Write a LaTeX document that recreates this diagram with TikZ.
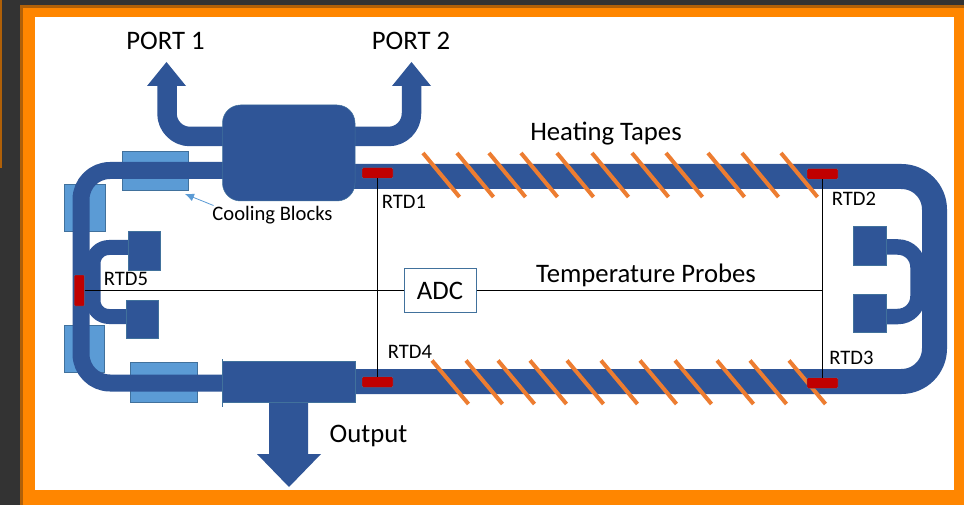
\documentclass[tikz,border=0pt]{standalone}
\usepackage{fontspec}
\setmainfont{Carlito}
\usetikzlibrary{arrows.meta}
\definecolor{tubeblue}{HTML}{2F5597}
\definecolor{edgeblue}{HTML}{41719C}
\definecolor{coolblue}{HTML}{5B9BD5}
\definecolor{rtdred}{HTML}{C00000}
\definecolor{tapeorange}{HTML}{ED7D31}
\definecolor{frameorange}{HTML}{FF8600}
\definecolor{framedark}{HTML}{B06008}
\definecolor{bgdark}{HTML}{333333}
\tikzset{
  tube/.style={draw=tubeblue,line width=#1,line join=round},
  coolblock/.style={fill=coolblue,draw=edgeblue,line width=.8pt},
  bodyblock/.style={fill=tubeblue,draw=edgeblue,line width=.5pt},
  rtdbox/.style={fill=rtdred,draw=edgeblue,line width=.4pt,rounded corners=1pt,inner sep=0pt,outer sep=0pt},
  tape/.style={draw=tapeorange,line width=4pt},
  probe/.style={draw=black,line width=1.5pt},
  biglabel/.style={inner sep=0pt,font=\fontsize{26.7}{27}\selectfont},
  smalllabel/.style={inner sep=0pt,font=\fontsize{20.6}{21}\selectfont},
}
\begin{document}
\begin{tikzpicture}[x=1pt,y=-1pt]
\useasboundingbox (0,0) rectangle (964,505);
% surroundings
\fill[bgdark] (0,0) rectangle (964,505);
\fill[framedark] (0,0) rectangle (2,168);
\fill[framedark] (20,5) rectangle (964,505);
\fill[frameorange] (23,8) rectangle (964,505);
\fill[white] (35,17) rectangle (954,490);
% cooling blocks
\draw[coolblock] (122,151) rectangle (188,190);
\draw[coolblock] (64,184) rectangle (105,231);
\draw[coolblock] (64,325) rectangle (104,372);
\draw[coolblock] (130,362) rectangle (197,402);
% side loops
\draw[tube=15pt,rounded corners=16pt] (130,247.5) -- (93,247.5) -- (93,316.5) -- (130,316.5);
\draw[tube=15.5pt,rounded corners=20pt] (880,247) -- (918,247) -- (918,316.5) -- (880,316.5);
% main tubes
\draw[tube=17pt,rounded corners=29pt] (230,170.5) -- (81,170.5) -- (81,383) -- (230,383);
\draw[tube=25pt,rounded corners=33pt] (345,176.5) -- (934.5,176.5) -- (934.5,381.5) -- (345,381.5);
% port arrows
\draw[tube=19.5pt,rounded corners=23pt] (230,136.5) -- (167,136.5) -- (167,84);
\fill[tubeblue] (147,86) -- (166.5,62) -- (186,86) -- cycle;
\draw[tube=19.5pt,rounded corners=23pt] (345,136.5) -- (411.5,136.5) -- (411.5,84);
\fill[tubeblue] (392,86) -- (411.5,62) -- (431,86) -- cycle;
% output arrow
\fill[tubeblue] (269,400) -- (269,454) -- (257,454) -- (289,487) -- (321,454) -- (308,454) -- (308,400) -- cycle;
% blocks
\draw[bodyblock,rounded corners=18pt] (222.5,105) rectangle (355,201);
\draw[bodyblock] (222,361) rectangle (355,402);
\fill[edgeblue] (222,359) rectangle (223,407);
\draw[bodyblock] (128,231.5) rectangle (160,270);
\draw[bodyblock] (126,300.5) rectangle (158.5,338);
\draw[bodyblock] (853,226) rectangle (886,265);
\draw[bodyblock] (853,294) rectangle (886,332);
% heating tapes
\foreach \x in {423,457,489,521,557,592,632,666,708,742,781}
  \draw[tape] (\x,153) -- ++(36.5,44);
\foreach \x in {432,466,498,530,567,601,640,675,717,750,789}
  \draw[tape] (\x,360.5) -- ++(36.5,43.5);
% RTD sensors
\node[rtdbox,minimum width=31pt,minimum height=10.5pt] (rtd1) at (377.5,173) {};
\node[rtdbox,minimum width=31pt,minimum height=10.5pt] (rtd2) at (822.5,174) {};
\node[rtdbox,minimum width=31pt,minimum height=10.5pt] (rtd3) at (822.5,383) {};
\node[rtdbox,minimum width=31pt,minimum height=10.5pt] (rtd4) at (377.5,382) {};
\node[rtdbox,minimum width=10.5pt,minimum height=31pt] (rtd5) at (79.3,290.5) {};
\node[draw=edgeblue,fill=white,line width=1pt,minimum width=72pt,minimum height=44pt,inner sep=0pt,font=\fontsize{26.7}{27}\selectfont] (adc) at (440,290.5) {ADC};
% probe wiring
\draw[probe] (rtd1.south) -- (rtd4.north);
\draw[probe] (rtd2.south) -- (rtd3.north);
\draw[probe] (rtd5.east) -- (adc.west);
\draw[probe] (adc.east) -- (adc.east -| rtd2);
% labels
\node[biglabel] (port1) at (165.5,41) {PORT 1};
\node[biglabel] (port2) at (411,41) {PORT 2};
\node[biglabel] (heat) at (606,134) {Heating Tapes};
\node[biglabel] (temp) at (646,275) {Temperature Probes};
\node[biglabel] (output) at (368.5,436) {Output};
\node[smalllabel] (cool) at (272.5,215.5) {Cooling Blocks};
\node[smalllabel] (l1) at (404,202) {RTD1};
\node[smalllabel] (l2) at (854,199) {RTD2};
\node[smalllabel] (l3) at (851.5,358) {RTD3};
\node[smalllabel] (l4) at (410,352) {RTD4};
\node[smalllabel] (l5) at (126,279) {RTD5};
% annotation arrow
\coordinate (cooltail) at (213.5,205.5);
\coordinate (cooltip) at (185,194);
\draw[coolblue,line width=.8pt,-{Latex[length=9pt,width=8pt]}] (cooltail) -- (cooltip);
\end{tikzpicture}
\end{document}
